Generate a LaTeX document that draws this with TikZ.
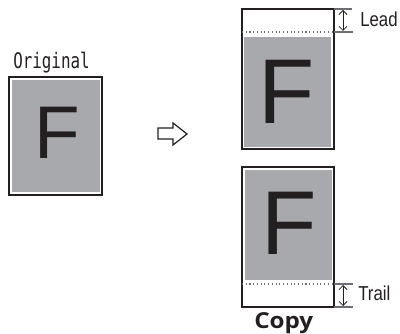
\documentclass[tikz,border=0pt]{standalone}
\usepackage{fontspec}
\setmainfont{Liberation Sans}
\newfontfamily\monof{DejaVu Sans Mono}
\newfontfamily\boldf{Open Sans}
\usetikzlibrary{arrows.meta}
\definecolor{pagegray}{HTML}{A7A9AC}
\definecolor{ink}{HTML}{231F20}
\definecolor{guide}{HTML}{6D6E71}
\tikzset{
  sheet/.style={draw=ink, line width=0.8pt, fill=white},
  image/.style={fill=pagegray, draw=none},
  bigF/.style={inner sep=0pt, text=ink, font=\fontsize{#1}{#1}\selectfont},
  dimarrow/.style={draw=ink, line width=0.6pt, {Straight Barb[length=3pt,width=6pt]}-{Straight Barb[length=3pt,width=6pt]}},
  cut/.style={draw=guide, line width=0.8pt, dotted},
  ext/.style={draw=guide, line width=0.8pt},
  lbl/.style={inner sep=0pt, anchor=base west, text=ink},
}
\begin{document}
\begin{tikzpicture}[x=0.75pt, y=-0.75pt]
\useasboundingbox (0,0) rectangle (400,334);
% Original
\node[lbl] (origlbl) at (13,69) {\scalebox{1}[1.35]{\monof\fontsize{11.9}{12}\selectfont Original}};
\draw[sheet] (9,77) rectangle (102,195);
\fill[image] (12,80) rectangle (100,192);
\node[bigF=56] (origF) at (57,132.5) {F};
% hollow arrow
\draw[draw=ink, line width=0.9pt, fill=white, line join=miter]
  (158,128) -- (173,128) -- (173,123) -- (187,134) -- (173,145) -- (173,139) -- (158,139) -- cycle;
% Lead copy
\draw[sheet] (242,9) rectangle (334,149);
\fill[image] (244,37) rectangle (331,147);
\node[bigF=69] (leadF) at (287,91.5) {F};
\draw[cut] (242,32) -- (334,32);
\draw[ext] (334,32) -- (353,32);
\draw[ext] (334,9) -- (352,9);
\coordinate (la) at (343,10);
\coordinate (lb) at (343,31);
\draw[dimarrow] (la) -- (lb);
\node[lbl] (lead) at (360,27) {\scalebox{1}[1.2]{\fontsize{12.6}{13}\selectfont Lead}};
% Trail copy
\draw[sheet] (242,167) rectangle (334,307);
\fill[image] (245,170) rectangle (332,280);
\node[bigF=68] (trailF) at (289,223.5) {F};
\draw[cut] (242,284) -- (334,284);
\draw[ext] (334,284) -- (353,284);
\draw[ext] (334,307) -- (353,307);
\coordinate (ta) at (343,285);
\coordinate (tb) at (343,306);
\draw[dimarrow] (ta) -- (tb);
\node[lbl] (trail) at (358,301) {\scalebox{1}[1.2]{\fontsize{12.6}{13}\selectfont Trail}};
% Copy caption
\node[lbl] (copy) at (254,329) {\scalebox{1.1}[1]{\boldf\bfseries\fontsize{16.5}{17}\selectfont Copy}};
\end{tikzpicture}
\end{document}
